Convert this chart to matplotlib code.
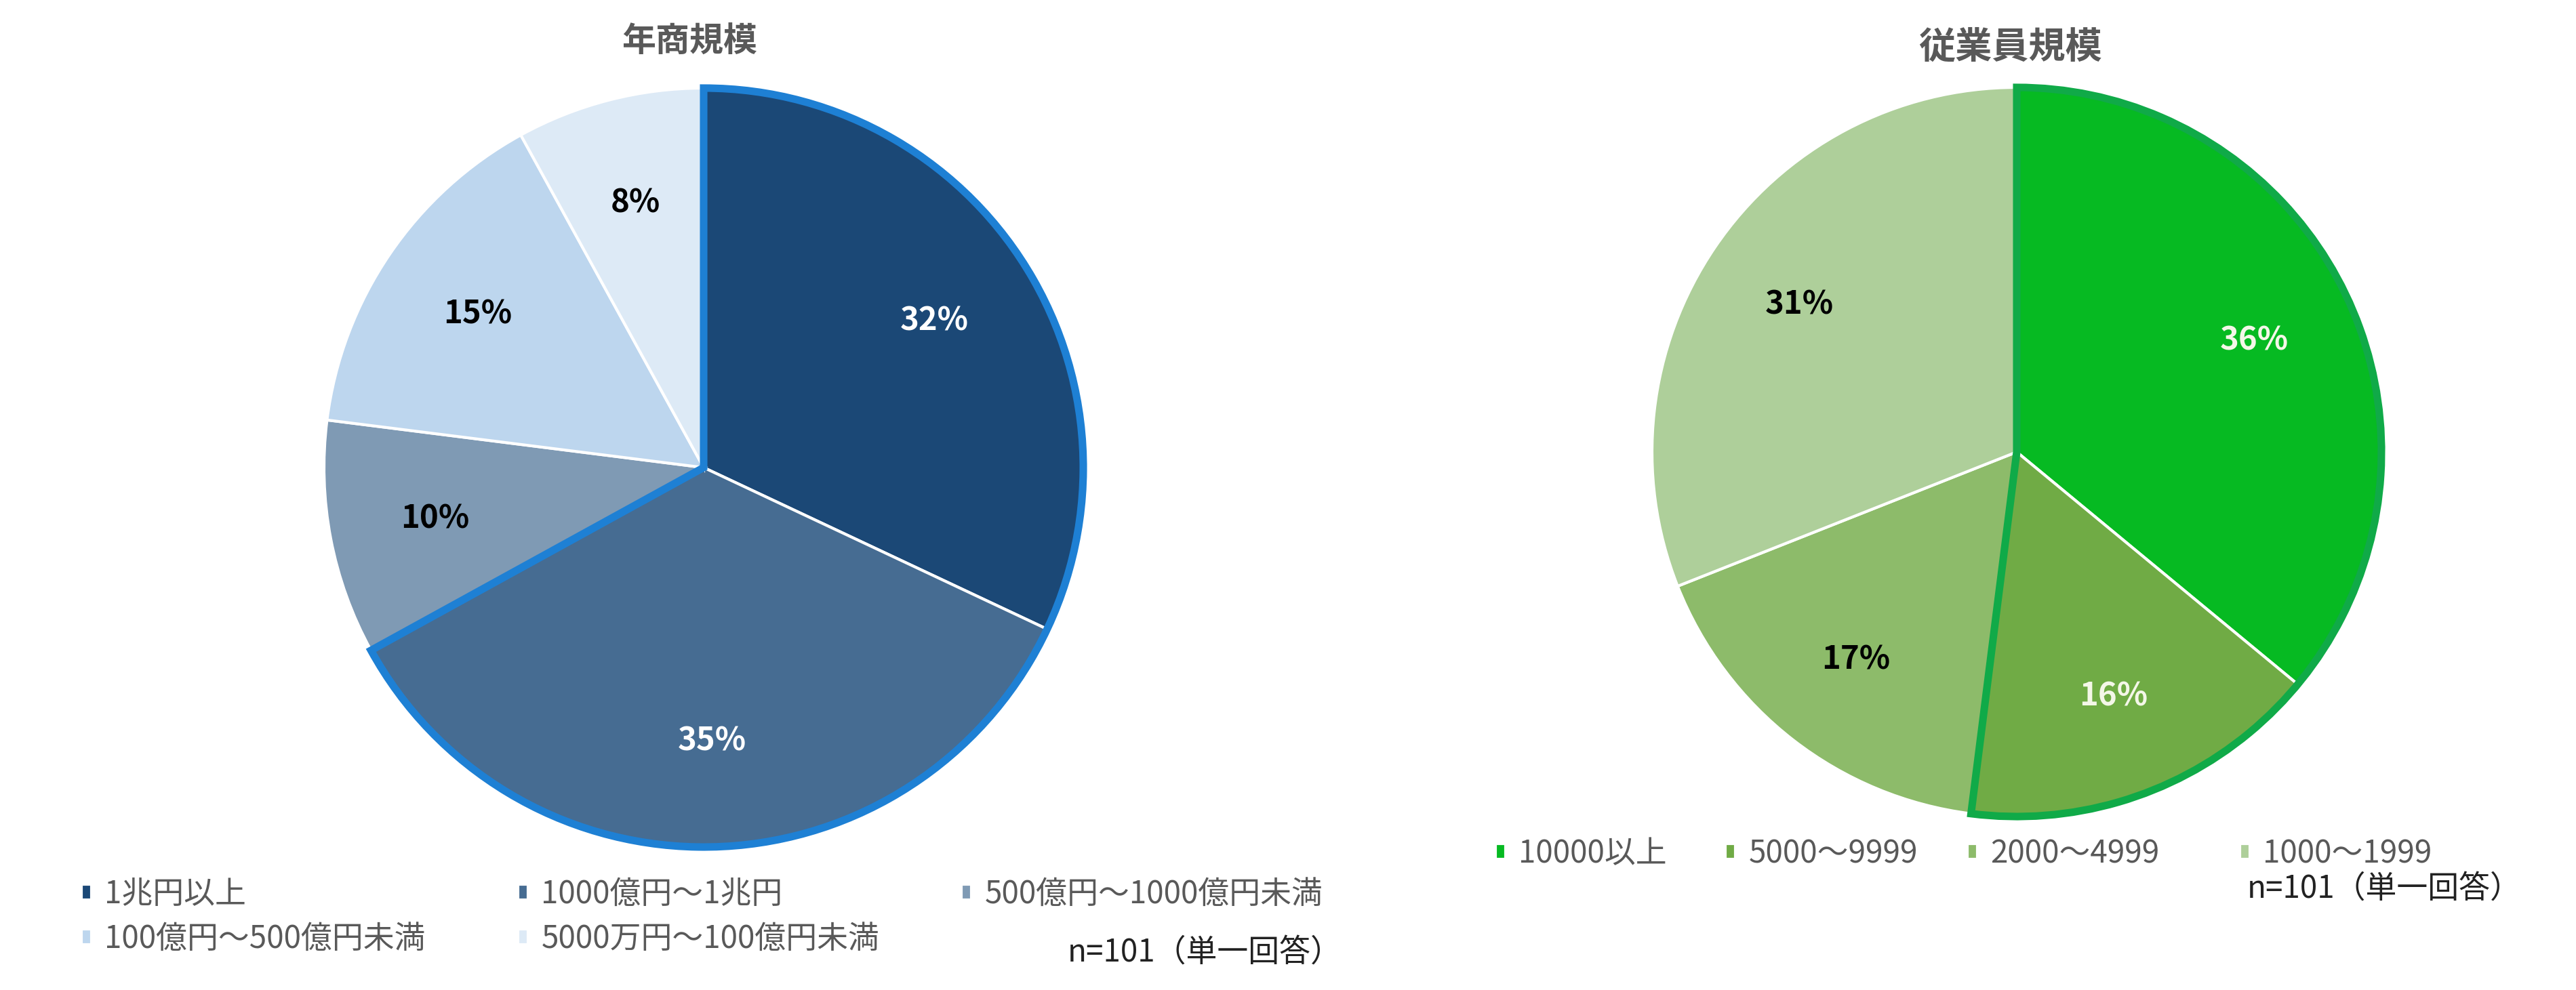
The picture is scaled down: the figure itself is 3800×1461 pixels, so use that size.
import matplotlib
matplotlib.use("Agg")
import matplotlib.pyplot as plt
from matplotlib.patches import Wedge

plt.rcParams['font.family'] = ['Noto Sans CJK JP', 'DejaVu Sans']

# ---- data ----
rev_title = "年商規模"
rev_labels = ["1兆円以上", "1000億円～1兆円", "500億円～1000億円未満",
              "100億円～500億円未満", "5000万円～100億円未満"]
rev_values = [32, 35, 10, 15, 8]
rev_colors = ["#1B4876", "#466C92", "#7F9AB4", "#BDD6EE", "#DDEAF6"]
rev_text_colors = ["white", "white", "black", "black", "black"]

emp_title = "従業員規模"
emp_labels = ["10000以上", "5000～9999", "2000～4999", "1000～1999"]
emp_values = [36, 16, 17, 31]
emp_colors = ["#06BA22", "#70AB45", "#8DBB6A", "#AECF9A"]
emp_text_colors = ["#F4F7E8", "#F4F7E8", "black", "black"]

note = "n=101（単一回答）"

W, H = 3800, 1461
fig = plt.figure(figsize=(W / 100, H / 100), dpi=100)
fig.patch.set_facecolor("white")


def fx(x):
    return x / W


def fy(y):
    return 1 - y / H


def make_pie(cx, cy, r, values, colors, tcolors, outline_color, n_outline):
    ax = fig.add_axes([fx(cx - r), fy(cy + r), 2 * r / W, 2 * r / H])
    wedges, texts, autotexts = ax.pie(
        values, colors=colors, startangle=90, counterclock=False,
        radius=1.0, autopct='%d%%', pctdistance=0.72,
        wedgeprops=dict(edgecolor="white", linewidth=3),
        textprops=dict(fontsize=34, fontweight="bold"))
    for t, c in zip(autotexts, tcolors):
        t.set_color(c)
    ax.set_xlim(-1.0, 1.0)
    ax.set_ylim(-1.0, 1.0)
    ax.set_aspect("equal")
    ax.axis("off")
    # outline around first n_outline wedges
    t1 = wedges[n_outline - 1].theta1
    t2 = wedges[0].theta2
    ol = Wedge((0, 0), 1.0, t1, t2, fill=False, edgecolor=outline_color,
               linewidth=8, joinstyle="miter", zorder=5, clip_on=False)
    ax.add_patch(ol)
    return wedges


rev_w = make_pie(1038, 690, 560, rev_values, rev_colors, rev_text_colors, "#1E80D4", 2)
emp_w = make_pie(2975, 667, 538, emp_values, emp_colors, emp_text_colors, "#10AA48", 2)

# titles
fig.text(fx(1017), fy(62), rev_title, ha="center", va="center", fontsize=36,
         fontweight="bold", color="#595959")
fig.text(fx(2965), fy(70), emp_title, ha="center", va="center", fontsize=39,
         fontweight="bold", color="#595959")


def legend_entry(handle, label, x, y):
    fig.legend([handle], [label], loc="center left",
               bbox_to_anchor=(fx(x), fy(y)), frameon=False, fontsize=33,
               handlelength=0.33, handleheight=0.4, handletextpad=0.42,
               borderpad=0, borderaxespad=0, labelcolor="#595959")


# left legend
rev_pos = [(120, 1320), (764, 1320), (1418, 1320), (120, 1386), (764, 1386)]
for w, lab, (x, y) in zip(rev_w, rev_labels, rev_pos):
    legend_entry(w, lab, x, y)

# right legend
emp_pos = [(2206, 1260), (2545, 1260), (2902, 1260), (3304, 1260)]
for w, lab, (x, y) in zip(emp_w, emp_labels, emp_pos):
    legend_entry(w, lab, x, y)

fig.text(fx(1575), fy(1405), note, ha="left", va="center", fontsize=33, color="#222222")
fig.text(fx(3315), fy(1311), note, ha="left", va="center", fontsize=33, color="#222222")

fig.savefig("out.png", dpi=100, facecolor="white")
